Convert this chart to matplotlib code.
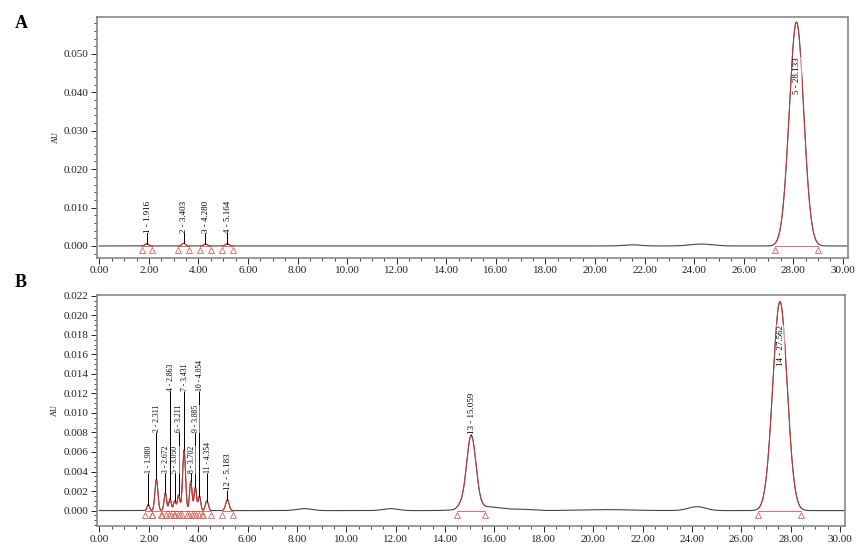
import numpy as np
import matplotlib
matplotlib.use("Agg")
import matplotlib.pyplot as plt
from matplotlib.ticker import MultipleLocator, FormatStrFormatter

plt.rcParams['font.family'] = ['Liberation Serif', 'DejaVu Serif']

# panel A: integrated peaks (retention time, height AU, width sigma min)
a_times = [1.916, 3.403, 4.280, 5.164, 28.133]
a_heights = [0.0006, 0.0007, 0.0005, 0.0006, 0.0583]
a_sigma = [0.07, 0.07, 0.07, 0.07, 0.29]
# panel A: small baseline bumps (not integrated)
a_bump_t = [21.5, 24.3]
a_bump_h = [0.0003, 0.0005]
a_bump_s = [0.35, 0.45]

# panel B
b_times = [1.980, 2.311, 2.672, 2.863, 3.050, 3.211, 3.431, 3.702, 3.885,
           4.054, 4.354, 5.183, 15.059, 27.562]
b_heights = [0.0006, 0.0032, 0.0018, 0.0012, 0.0010, 0.0016, 0.0062, 0.0030,
             0.0024, 0.0015, 0.0010, 0.0011, 0.0074, 0.0214]
b_sigma = [0.05, 0.06, 0.05, 0.05, 0.05, 0.05, 0.06, 0.05, 0.05,
           0.05, 0.06, 0.07, 0.19, 0.29]
b_bump_t = [8.3, 11.8, 14.6, 15.6, 17.2, 20.5, 24.2]
b_bump_h = [0.0002, 0.0002, 0.0003, 0.0004, 0.0001, 0.0001, 0.0004]
b_bump_s = [0.3, 0.3, 0.12, 0.7, 0.4, 1.0, 0.35]

# label base heights (where the rotated text starts), staggered in the crowded part
a_label_y = [0.0035, 0.0035, 0.0035, 0.0035, 0.0395]
b_label_y = [0.0038, 0.0080, 0.0038, 0.0122, 0.0038, 0.0080, 0.0122, 0.0038,
             0.0080, 0.0122, 0.0038, 0.0021, 0.0078, 0.0148]
b_label_size = [5.5] * 11 + [6.5, 6.5, 6.5]
a_label_size = [6.5] * 5

t = np.linspace(0, 30.2, 6000)


def gauss(x, c, h, s):
    return h * np.exp(-0.5 * ((x - c) / s) ** 2)


def draw(ax, times, heights, sig, bt, bh, bs, label_y, label_size,
         ylim, ymaj, ymin):
    y = np.zeros_like(t)
    for c, h, s in zip(bt, bh, bs):
        y += gauss(t, c, h, s)
    for c, h, s in zip(times, heights, sig):
        y += gauss(t, c, h, s)
    ax.plot(t, y, color='#444444', lw=0.8, zorder=2)

    for i, (c, h, s) in enumerate(zip(times, heights, sig)):
        lo, hi = c - 3.0 * s, c + 3.0 * s
        m = (t >= lo) & (t <= hi)
        ax.plot(t[m], y[m], color='#e03030', lw=0.6, zorder=3)
        ax.plot([lo, hi], [0, 0], color='#e03030', lw=0.5, zorder=3)
        tri = -0.018 * (ylim[1] - ylim[0])
        ax.plot([lo, hi], [tri, tri], ls='none', marker='^', ms=5,
                mfc='none', mec='#e06060', mew=0.6, zorder=3)
        apex = y[np.argmin(np.abs(t - c))]
        ly = label_y[i]
        if ly > apex:
            ax.plot([c, c], [apex, ly], color='black', lw=0.7, zorder=4)
        ax.text(c + 0.03, ly, f"{i + 1} - {c:.3f}", rotation=90,
                ha='center', va='bottom', fontsize=label_size[i], zorder=5,
                bbox=dict(boxstyle='square,pad=0.05', fc='white', ec='none', alpha=0.5))

    ax.set_xlim(-0.1, 30.2)
    ax.set_ylim(*ylim)
    ax.xaxis.set_major_locator(MultipleLocator(2))
    ax.xaxis.set_minor_locator(MultipleLocator(0.5))
    ax.xaxis.set_major_formatter(FormatStrFormatter('%.2f'))
    ax.yaxis.set_major_locator(MultipleLocator(ymaj))
    ax.yaxis.set_minor_locator(MultipleLocator(ymin))
    ax.yaxis.set_major_formatter(FormatStrFormatter('%.3f'))
    ax.tick_params(labelsize=8, length=4, width=0.7, colors='#222222', pad=2)
    ax.tick_params(which='minor', length=2, width=0.5)
    for sp in ax.spines.values():
        sp.set_color('#888888')
        sp.set_linewidth(1.2)
    ax.set_ylabel('AU', fontsize=6, labelpad=3)


fig = plt.figure(figsize=(8.65, 5.51), dpi=100)
ax_a = fig.add_axes([0.112, 0.532, 0.868, 0.437])
ax_b = fig.add_axes([0.112, 0.045, 0.865, 0.420])

draw(ax_a, a_times, a_heights, a_sigma, a_bump_t, a_bump_h, a_bump_s,
     a_label_y, a_label_size, (-0.0031, 0.0596), 0.010, 0.002)
draw(ax_b, b_times, b_heights, b_sigma, b_bump_t, b_bump_h, b_bump_s,
     b_label_y, b_label_size, (-0.0016, 0.0221), 0.002, 0.0005)

fig.text(0.017, 0.950, 'A', fontsize=13, fontweight='bold')
fig.text(0.017, 0.480, 'B', fontsize=13, fontweight='bold')

fig.savefig('out.png', dpi=100)
